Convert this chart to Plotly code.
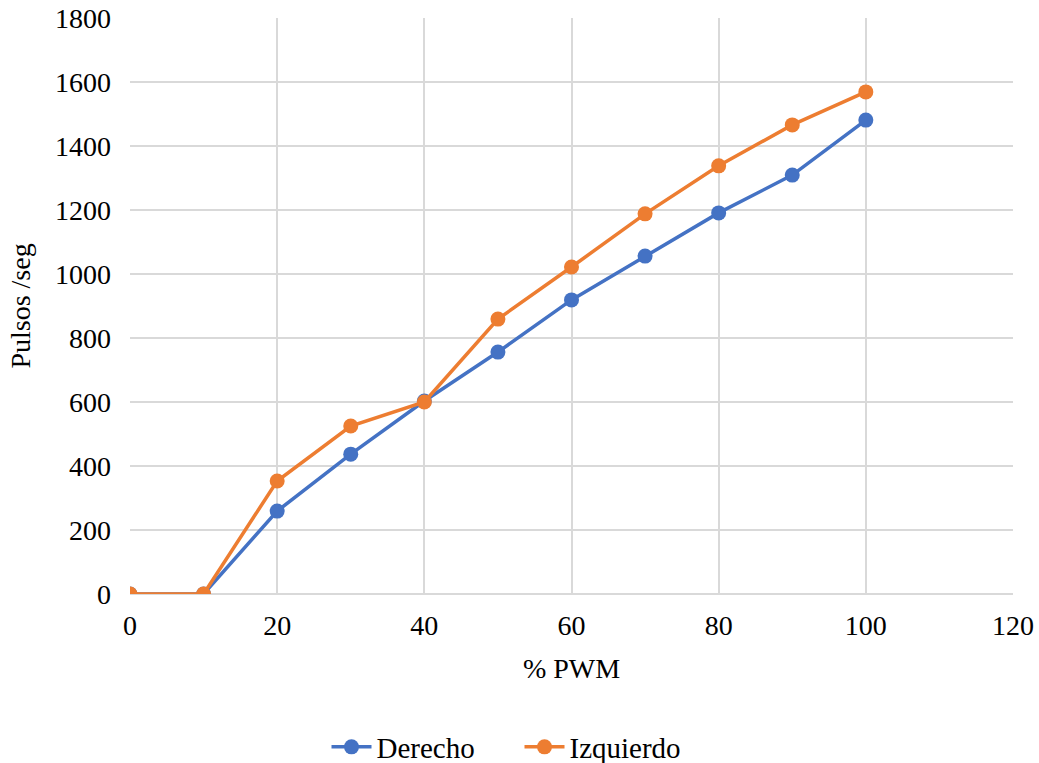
import plotly.graph_objects as go

pwm = [0, 10, 20, 30, 40, 50, 60, 70, 80, 90, 100]
derecho = [0, 0, 259, 437, 603, 756, 919, 1056, 1191, 1309, 1481]
izquierdo = [0, 0, 353, 525, 600, 859, 1022, 1188, 1338, 1466, 1569]

FONT = "Liberation Serif, Times New Roman, serif"
FS = 28

fig = go.Figure()
fig.add_trace(go.Scatter(x=pwm, y=derecho, name="Derecho", mode="lines+markers",
                         line=dict(color="#4472C4", width=3.5),
                         marker=dict(color="#4472C4", size=15)))
fig.add_trace(go.Scatter(x=pwm, y=izquierdo, name="Izquierdo", mode="lines+markers",
                         line=dict(color="#ED7D31", width=3.5),
                         marker=dict(color="#ED7D31", size=15)))

fig.update_layout(
    width=1039, height=763,
    margin=dict(l=130, r=26, t=18, b=169, autoexpand=False),
    paper_bgcolor="white", plot_bgcolor="white",
    font=dict(family=FONT, size=FS, color="#000000"),
    showlegend=True,
    legend=dict(orientation="h", xref="container", yref="container",
                x=0.5, xanchor="center", y=(763 - 747) / 763, yanchor="middle",
                font=dict(family=FONT, size=29, color="#000000"), itemwidth=40,
                entrywidth=138),
)
fig.update_xaxes(range=[0, 120], dtick=20, tick0=0, showgrid=True, gridcolor="#D9D9D9",
                 gridwidth=2, zeroline=False, showline=False, ticks="",
                 automargin=False, ticklabelstandoff=12,
                 title=dict(text="% PWM", standoff=18, font=dict(family=FONT, size=FS)),
                 tickfont=dict(family=FONT, size=FS))
fig.update_yaxes(range=[0, 1800], dtick=200, showgrid=True, gridcolor="#D9D9D9",
                 gridwidth=2, zeroline=True, zerolinecolor="#D9D9D9", zerolinewidth=2,
                 showline=False, ticks="", ticklabelstandoff=18, automargin=False,
                 title=dict(text="Pulsos /seg", standoff=16, font=dict(family=FONT, size=FS)),
                 tickfont=dict(family=FONT, size=FS))
fig.write_html("out.html")
